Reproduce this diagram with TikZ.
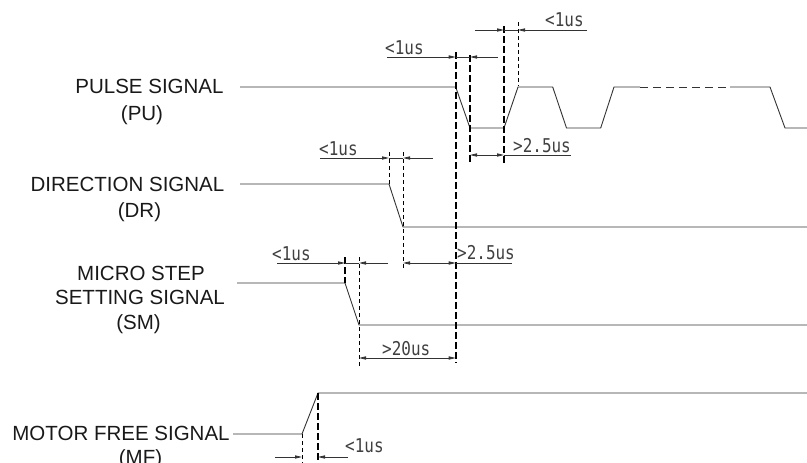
\documentclass[tikz,border=0pt]{standalone}
\usepackage{fontspec}
\setmainfont{Liberation Sans}
\newfontfamily\cadfont[FakeStretch=0.84]{DejaVu Sans Mono}
\usetikzlibrary{arrows.meta}
\begin{document}
\begin{tikzpicture}[x=1pt,y=-1pt,
  sig/.style={line width=0.9pt, draw=black!80},
  lab/.style={font=\fontsize{20.5}{24}\selectfont, inner sep=0pt, anchor=base, text=black!90},
  dimtxt/.style={font=\cadfont\fontsize{19}{19}\selectfont, inner sep=0pt, anchor=base west, text=black!75},
  dimline/.style={line width=0.8pt, draw=black!80},
  tip/.style={-{Triangle[length=7pt,width=3.2pt]}},
  thickdash/.style={line width=1.7pt, dash pattern=on 6.5pt off 3.5pt},
  thindash/.style={line width=0.7pt, dash pattern=on 4pt off 3pt},
]
\useasboundingbox (0,0) rectangle (807,463);

% ---------- labels ----------
\node[lab] (pu1) at (149.5,93) {PULSE SIGNAL};
\node[lab] (pu2) at (142,120) {(PU)};
\node[lab] (dr1) at (127.5,191) {DIRECTION SIGNAL};
\node[lab] (dr2) at (139.5,217) {(DR)};
\node[lab] (sm1) at (141,280) {MICRO STEP};
\node[lab] (sm2) at (140,304) {SETTING SIGNAL};
\node[lab] (sm3) at (138.5,329) {(SM)};
\node[lab] (mf1) at (121,440) {MOTOR FREE SIGNAL};
\node[lab] (mf2) at (140.5,464) {(MF)};

% ---------- signals ----------
\coordinate (puS) at (240,87);
\coordinate (puA) at (455.7,87);
\coordinate (puB) at (470,128);
\coordinate (puC) at (504,128);
\coordinate (puD) at (518,87);
\draw[sig] (puS) -- (puA) -- (puB) -- (puC) -- (puD) -- (552.7,87) -- (566.5,128)
  -- (600.7,128) -- (614,87) -- (640,87);
\draw[sig, dash pattern=on 8pt off 5pt] (640,87) -- (730,87);
\draw[sig] (730,87) -- (770,87) -- (785,128) -- (807,128);

\coordinate (drS) at (240,184);
\coordinate (drA) at (389,184);
\coordinate (drB) at (403,227);
\draw[sig] (drS) -- (drA) -- (drB) -- (807,227);

\coordinate (smS) at (237,283);
\coordinate (smA) at (345,283);
\coordinate (smB) at (359,325);
\draw[sig] (smS) -- (smA) -- (smB) -- (807,325);

\coordinate (mfS) at (233,434);
\coordinate (mfA) at (302,434);
\coordinate (mfB) at (318,393);
\draw[sig] (mfS) -- (mfA) -- (mfB) -- (807,393);

% ---------- extension lines ----------
\draw[thickdash] (455.7,52) -- (455.7,363);
\draw[thickdash] (470,55) -- (470,163);
\draw[thickdash] (504,26) -- (504,163);
\draw[thickdash] (345,257) -- (345,283);
\draw[thickdash] (318,393) -- (318,463);
\draw[thindash] (518,22) -- (518,86);
\draw[thindash] (389,152) -- (389,184);
\draw[thindash] (403,152) -- (403,268);
\draw[thindash] (359,257) -- (359,366);
\draw[thindash] (302,434) -- (302,463);

% ---------- dimensions ----------
% PU <1us
\draw[dimline,tip] (387,57) -- (455.7,57);
\draw[dimline] (455.7,57) -- (470,57);
\draw[dimline,tip] (498,57) -- (470,57);
\node[dimtxt] (t1) at (385,54) {<1us};
% top <1us
\draw[dimline,tip] (475,30) -- (504,30);
\draw[dimline] (504,30) -- (518,30);
\draw[dimline,tip] (587,30) -- (518,30);
\node[dimtxt] (t2) at (545,27) {<1us};
% PU >2.5us
\draw[dimline,tip] (487,155) -- (470,155);
\draw[dimline,tip] (487,155) -- (504,155);
\draw[dimline] (504,155) -- (571,155);
\node[dimtxt] (t3) at (513,152) {>2.5us};
% DR <1us
\draw[dimline,tip] (320,158) -- (389,158);
\draw[dimline] (389,158) -- (403,158);
\draw[dimline,tip] (433,158) -- (403,158);
\node[dimtxt] (t4) at (319,155) {<1us};
% DR >2.5us
\draw[dimline,tip] (429,263) -- (403,263);
\draw[dimline,tip] (429,263) -- (455.7,263);
\draw[dimline] (455.7,263) -- (512,263);
\node[dimtxt] (t5) at (457,259) {>2.5us};
% SM <1us
\draw[dimline,tip] (277,263) -- (345,263);
\draw[dimline] (345,263) -- (359,263);
\draw[dimline,tip] (388,263) -- (359,263);
\node[dimtxt] (t6) at (272,260) {<1us};
% >20us
\draw[dimline,tip] (407,358) -- (359,358);
\draw[dimline,tip] (407,358) -- (455.7,358);
\node[dimtxt] (t7) at (382,355) {>20us};
% MF <1us
\draw[dimline,tip] (275,457) -- (302,457);
\draw[dimline,tip] (348,457) -- (318,457);
\node[dimtxt] (t8) at (345,452.5) {<1us};
\end{tikzpicture}
\end{document}
